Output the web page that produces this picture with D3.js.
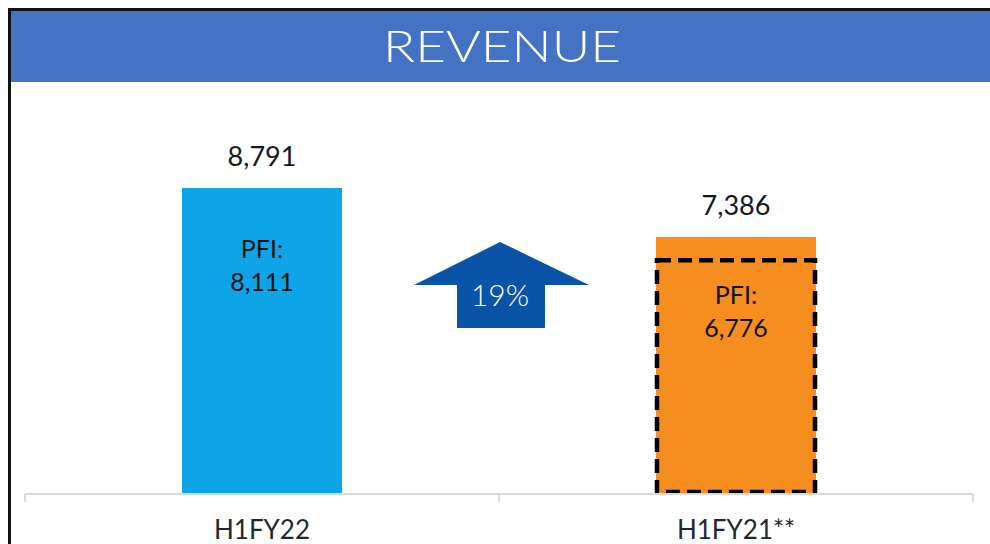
<!DOCTYPE html>
<html>
<head>
<meta charset="utf-8">
<script src="https://cdn.jsdelivr.net/npm/d3@7"></script>
<style>
  html, body { margin: 0; padding: 0; background: #fff; }
  svg { display: block; }
  text { font-family: Lato, "Open Sans", sans-serif; }
</style>
</head>
<body>
<svg id="chart" width="990" height="544"></svg>
<script>
// ---- data ----
const title = "REVENUE";
const categories = ["H1FY22", "H1FY21**"];
const revenue = [8791, 7386];
const pfi = [8111, 6776];
const growthLabel = "19%";
const barColors = ["#0EA5E8", "#F68D1F"];

// ---- setup ----
const W = 990, H = 544;
const svg = d3.select("#chart");

const x = d3.scaleBand()
  .domain(categories)
  .range([25, 973])
  .paddingInner(0.6624)
  .paddingOuter(0.3312);

const y = d3.scaleLinear()
  .domain([0, 10000])
  .range([494, 494 - 348.1]);

const fmt = d3.format(",");

// header
svg.append("rect")
  .attr("x", 10).attr("y", 10).attr("width", W - 10).attr("height", 72)
  .attr("fill", "#4472C4");
svg.append("line")
  .attr("x1", 8).attr("x2", W).attr("y1", 9.5).attr("y2", 9.5)
  .attr("stroke", "#111").attr("stroke-width", 3);
svg.append("line")
  .attr("x1", 9.5).attr("x2", 9.5).attr("y1", 8).attr("y2", H)
  .attr("stroke", "#111").attr("stroke-width", 3);

svg.append("text")
  .attr("x", 502).attr("y", 62)
  .attr("text-anchor", "middle")
  .attr("fill", "#fff")
  .attr("font-size", 44)
  .attr("font-weight", 300)
  .attr("textLength", 238)
  .attr("lengthAdjust", "spacingAndGlyphs")
  .text(title);

// bars
const bars = categories.map((c, i) => ({ c, v: revenue[i], p: pfi[i], color: barColors[i], i }));

svg.selectAll("rect.bar")
  .data(bars)
  .join("rect")
  .attr("class", "bar")
  .attr("x", d => x(d.c))
  .attr("y", d => y(d.v))
  .attr("width", x.bandwidth())
  .attr("height", d => y(0) - y(d.v))
  .attr("fill", d => d.color);

// dashed PFI box on second bar
const last = bars[1];
svg.append("rect")
  .attr("x", x(last.c) + 1)
  .attr("y", y(last.p) + 2)
  .attr("width", x.bandwidth() - 2)
  .attr("height", y(0) - y(last.p) - 4)
  .attr("fill", "none")
  .attr("stroke", "#000")
  .attr("stroke-width", 4.5)
  .attr("stroke-dasharray", "14,7");

// axis
const axisG = svg.append("g").attr("transform", "translate(0,494)");
axisG.append("line")
  .attr("x1", 25).attr("x2", 973).attr("y1", 0).attr("y2", 0)
  .attr("stroke", "#D9D9D9").attr("stroke-width", 2);
const tickXs = [x.range()[0], x(categories[1]) - x.step() * x.paddingInner() / 2, x.range()[1]];
axisG.selectAll("line.tick")
  .data(tickXs)
  .join("line")
  .attr("class", "tick")
  .attr("x1", d => d).attr("x2", d => d)
  .attr("y1", 0).attr("y2", 8)
  .attr("stroke", "#D9D9D9").attr("stroke-width", 2);

svg.selectAll("text.cat")
  .data(categories)
  .join("text")
  .attr("class", "cat")
  .attr("x", d => x(d) + x.bandwidth() / 2)
  .attr("y", 539)
  .attr("text-anchor", "middle")
  .attr("font-size", 26)
  .attr("fill", "#1F2733")
  .text(d => d);

// value labels
svg.selectAll("text.val")
  .data(bars)
  .join("text")
  .attr("class", "val")
  .attr("x", d => x(d.c) + x.bandwidth() / 2)
  .attr("y", d => y(d.v) - 22)
  .attr("text-anchor", "middle")
  .attr("font-size", 27)
  .attr("fill", "#111827")
  .text(d => fmt(d.v));

// PFI labels
svg.selectAll("text.pfi1")
  .data(bars)
  .join("text")
  .attr("class", "pfi1")
  .attr("x", d => x(d.c) + x.bandwidth() / 2)
  .attr("y", d => y(d.p) + 46)
  .attr("text-anchor", "middle")
  .attr("font-size", 25)
  .attr("fill", "#111")
  .text("PFI:");
svg.selectAll("text.pfi2")
  .data(bars)
  .join("text")
  .attr("class", "pfi2")
  .attr("x", d => x(d.c) + x.bandwidth() / 2)
  .attr("y", d => y(d.p) + 79)
  .attr("text-anchor", "middle")
  .attr("font-size", 25)
  .attr("fill", "#111")
  .text(d => fmt(d.p));

// growth arrow between the bars
const ax = tickXs[1] + 1;
const arrow = d3.path();
arrow.moveTo(ax, 242);
arrow.lineTo(ax + 89, 285);
arrow.lineTo(ax + 45, 285);
arrow.lineTo(ax + 45, 328);
arrow.lineTo(ax - 43, 328);
arrow.lineTo(ax - 43, 285);
arrow.lineTo(ax - 86, 285);
arrow.closePath();
svg.append("path").attr("d", arrow.toString()).attr("fill", "#0954A6");
svg.append("text")
  .attr("x", ax).attr("y", 306)
  .attr("text-anchor", "middle")
  .attr("font-size", 30)
  .attr("font-weight", 300)
  .attr("fill", "#fff")
  .text(growthLabel);
</script>
</body>
</html>
